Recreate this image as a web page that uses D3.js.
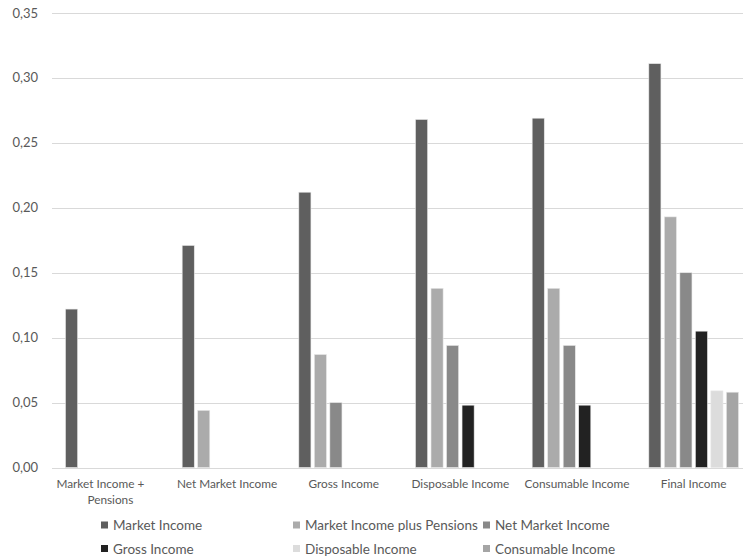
<!DOCTYPE html>
<html><head><meta charset="utf-8">
<script src="https://cdn.jsdelivr.net/npm/d3@7"></script>
<style>body{margin:0;background:#fff}svg{display:block}text{font-family:Lato,"Open Sans",sans-serif;fill:#595959}</style>
</head><body><svg id="c" width="743" height="560"></svg>
<script>
const categories = ["Market Income + Pensions","Net Market Income","Gross Income","Disposable Income","Consumable Income","Final Income"];
const seriesNames = ["Market Income","Market Income plus Pensions","Net Market Income","Gross Income","Disposable Income","Consumable Income"];
const marketIncome = [0.122,0.171,0.212,0.268,0.269,0.311];
const marketIncomePlusPensions = [null,0.044,0.087,0.138,0.138,0.193];
const netMarketIncome = [null,null,0.050,0.094,0.094,0.150];
const grossIncome = [null,null,null,0.048,0.048,0.105];
const disposableIncome = [null,null,null,null,null,0.059];
const consumableIncome = [null,null,null,null,null,0.058];
const yTicks = [0,0.05,0.10,0.15,0.20,0.25,0.30,0.35];
const colors = ["#5f5f5f","#ababab","#898989","#222222","#dcdcdc","#a5a5a5"];
const seriesValues = [marketIncome,marketIncomePlusPensions,netMarketIncome,grossIncome,disposableIncome,consumableIncome];

const svg = d3.select("#c");
const y = d3.scaleLinear().domain([0,0.35]).range([467.5,13]);
const x0 = d3.scaleBand().domain(categories).range([52,752]).padding(0);
const bw = x0.bandwidth();
const x1 = d3.scaleBand().domain(seriesNames).range([13.5,bw-13.5]).paddingInner(0.22);

// gridlines
svg.append("g").selectAll("line").data(yTicks).join("line")
  .attr("x1",52).attr("x2",743).attr("y1",d=>Math.round(y(d))+0.5).attr("y2",d=>Math.round(y(d))+0.5)
  .attr("stroke","#d9d9d9").attr("stroke-width",1);

// y axis labels
const fmt = d => d3.format(".2f")(d).replace(".",",");
svg.append("g").selectAll("text").data(yTicks).join("text")
  .attr("x",38).attr("y",d=>y(d)).attr("dy","0.35em").attr("text-anchor","end")
  .style("font-size","13px").text(fmt);

// bars
const g = svg.append("g");
categories.forEach((c,i)=>{
  seriesNames.forEach((s,j)=>{
    const v = seriesValues[j][i];
    if(v==null) return;
    g.append("rect")
      .attr("x",x0(c)+x1(s)).attr("width",x1.bandwidth())
      .attr("y",y(v)).attr("height",y(0)-y(v))
      .attr("fill",colors[j]).attr("stroke","#e8e8e8").attr("stroke-width",0.6);
  });
});

// category labels
const lab = svg.append("g");
categories.forEach(c=>{
  const cx = x0(c)+bw/2;
  let lines = [c];
  if(c==="Market Income + Pensions") lines=["Market Income +","Pensions"];
  lines.forEach((l,k)=>{
    lab.append("text").attr("x",cx).attr("y",488+k*16).attr("text-anchor","middle")
      .attr("dx", (lines.length>1 && k===0) ? -10 : 0)
      .style("font-size","11.8px").text(l);
  });
});

// legend
const legX = [101,293,483];
const legY = [525.5,549];
const leg = svg.append("g");
seriesNames.forEach((s,j)=>{
  const col = j%3, row = Math.floor(j/3);
  leg.append("rect").attr("x",legX[col]).attr("y",legY[row]-4).attr("width",7).attr("height",7).attr("fill",colors[j]);
  leg.append("text").attr("x",legX[col]+12).attr("y",legY[row]).attr("dy","0.35em")
    .style("font-size","13.5px").text(s);
});
</script></body></html>
